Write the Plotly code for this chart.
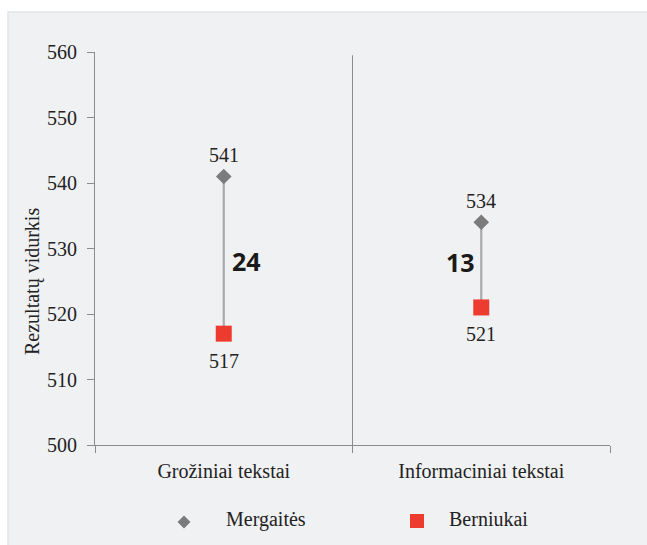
import plotly.graph_objects as go

categories = ["Grožiniai tekstai", "Informaciniai tekstai"]
girls = [541, 534]
boys = [517, 521]
series_names = ["Mergaitės", "Berniukai"]
y_ticks = [500, 510, 520, 530, 540, 550, 560]

W, H = 647, 545
SERIF = "Liberation Serif"
GREY = "#7b7b7b"
RED = "#ee3b30"
TXT = "#222222"
AX = "#8c8c8c"

fig = go.Figure()

# connecting lines between the two groups
for i, c in enumerate(categories):
    fig.add_trace(go.Scatter(x=[c, c], y=[girls[i], boys[i]], mode="lines",
                             line=dict(color="#a9a9a9", width=2.2),
                             showlegend=False, hoverinfo="skip"))

fig.add_trace(go.Scatter(x=categories, y=girls, mode="markers", name=series_names[0],
                         marker=dict(symbol="diamond", size=12, color=GREY),
                         showlegend=False, cliponaxis=False))
fig.add_trace(go.Scatter(x=categories, y=boys, mode="markers", name=series_names[1],
                         marker=dict(symbol="square", size=16, color=RED),
                         showlegend=False, cliponaxis=False))

# legend symbols on a full-figure helper subplot (pixel units)
fig.add_trace(go.Scatter(x=[184], y=[522], mode="markers", xaxis="x2", yaxis="y2",
                         marker=dict(symbol="diamond", size=10, color=GREY),
                         showlegend=False, hoverinfo="skip"))
fig.add_trace(go.Scatter(x=[417], y=[521], mode="markers", xaxis="x2", yaxis="y2",
                         marker=dict(symbol="square", size=14, color=RED),
                         showlegend=False, hoverinfo="skip"))

annotations = []
for i, c in enumerate(categories):
    annotations.append(dict(x=c, y=girls[i], text=str(girls[i]), showarrow=False,
                            yshift=21, font=dict(family=SERIF, size=20, color=TXT)))
    annotations.append(dict(x=c, y=boys[i], text=str(boys[i]), showarrow=False,
                            yshift=-27, font=dict(family=SERIF, size=20, color=TXT)))
    diff = girls[i] - boys[i]
    annotations.append(dict(x=c, y=(girls[i] + boys[i]) / 2, text="<b>%d</b>" % diff,
                            showarrow=False, xshift=23 if i == 0 else -21,
                            yshift=-6 if i == 0 else 3,
                            font=dict(family="Open Sans", size=25, color="#1a1a1a")))

annotations.append(dict(xref="x2", yref="y2", x=32, y=282, text="Rezultatų vidurkis",
                        textangle=-90, showarrow=False, xanchor="center", yanchor="middle",
                        font=dict(family=SERIF, size=20, color=TXT)))
annotations.append(dict(xref="x2", yref="y2", x=224, y=519, xanchor="left", yanchor="middle",
                        text=series_names[0], showarrow=False,
                        font=dict(family=SERIF, size=20, color=TXT)))
annotations.append(dict(xref="x2", yref="y2", x=447, y=519, xanchor="left", yanchor="middle",
                        text=series_names[1], showarrow=False,
                        font=dict(family=SERIF, size=20, color=TXT)))

shapes = [
    dict(type="rect", xref="paper", yref="paper", x0=8 / W, x1=1.01,
         y0=-0.01, y1=(H - 12) / H, fillcolor="#f0f1f3",
         line=dict(color="#e4e5e7", width=1.5), layer="below"),
    dict(type="line", xref="x", yref="y", x0=0.5, x1=0.5, y0=500, y1=559.5,
         line=dict(color=AX, width=1), layer="below"),
]

fig.update_layout(
    width=W, height=H,
    margin=dict(l=0, r=0, t=0, b=0, pad=0, autoexpand=False),
    paper_bgcolor="white",
    plot_bgcolor="rgba(0,0,0,0)",
    showlegend=False,
    annotations=annotations,
    shapes=shapes,
    xaxis=dict(domain=[95 / W, 610 / W], type="category", range=[-0.5, 1.5],
               tickson="boundaries", showgrid=False, automargin=False,
               showline=True, linecolor=AX, linewidth=1, ticks="outside",
               ticklen=7, tickcolor=AX, zeroline=False, fixedrange=True,
               tickfont=dict(family=SERIF, size=20, color=TXT), ticklabelstandoff=8),
    yaxis=dict(domain=[(H - 445) / H, (H - 52) / H], range=[500, 560], tickvals=y_ticks,
               showgrid=False, zeroline=False, fixedrange=True, automargin=False,
               showline=True, linecolor=AX, linewidth=1, ticks="outside",
               ticklen=7, tickcolor=AX,
               tickfont=dict(family=SERIF, size=20, color=TXT), ticklabelstandoff=6),
    xaxis2=dict(domain=[0, 1], range=[0, W], visible=False, fixedrange=True,
                anchor="y2", automargin=False),
    yaxis2=dict(domain=[0, 1], range=[H, 0], visible=False, fixedrange=True,
                anchor="x2", automargin=False),
)

fig.write_html("out.html", config={"displayModeBar": False},
               post_script="document.body.style.margin='0';document.body.style.overflow='hidden';")
